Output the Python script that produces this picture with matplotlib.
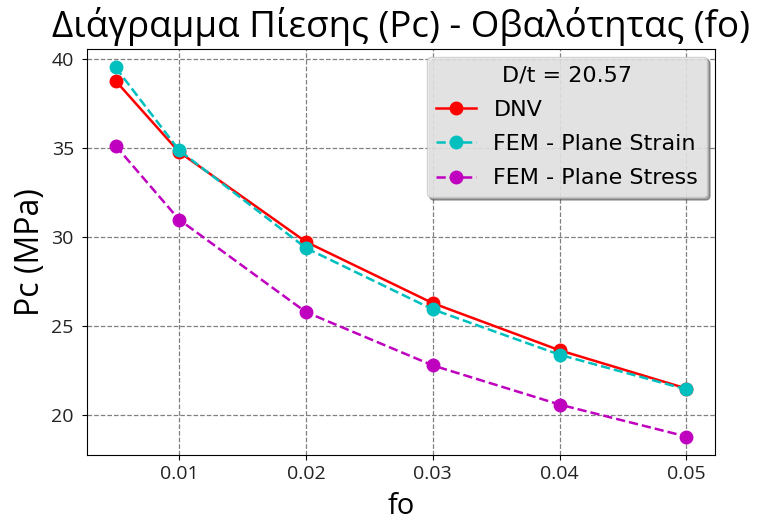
import matplotlib
matplotlib.use("Agg")
import matplotlib.pyplot as plt

fo = [0.005, 0.01, 0.02, 0.03, 0.04, 0.05]
pc_dnv = [38.8, 34.8, 29.75, 26.3, 23.65, 21.5]
pc_plane_strain = [39.55, 34.9, 29.4, 25.95, 23.4, 21.45]
pc_plane_stress = [35.15, 31.0, 25.8, 22.8, 20.6, 18.8]
dt_ratio = 20.57

label_font = "Open Sans"

fig = plt.figure(figsize=(7.57, 5.23), dpi=100)
ax = fig.add_axes([0.115, 0.130, 0.8295, 0.7763])

ax.plot(fo, pc_dnv, "r-o", lw=1.8, ms=9, label="DNV")
ax.plot(fo, pc_plane_strain, "c--o", lw=1.8, ms=9, label="FEM - Plane Strain")
ax.plot(fo, pc_plane_stress, "m--o", lw=1.8, ms=9, label="FEM - Plane Stress")

ax.set_xticks([0.01, 0.02, 0.03, 0.04, 0.05])
ax.set_xticklabels(["0.01", "0.02", "0.03", "0.04", "0.05"])
ax.set_yticks([20, 25, 30, 35, 40])
for lab in ax.get_xticklabels() + ax.get_yticklabels():
    lab.set_fontfamily(label_font)
    lab.set_fontsize(14)
    lab.set_color("#222222")
ax.tick_params(axis="y", pad=6)

ax.grid(True, color="gray", linestyle="--", linewidth=0.9)
for sp in ax.spines.values():
    sp.set_color("black")

ax.set_title("Διάγραμμα Πίεσης (Pc) - Οβαλότητας (fo)", fontsize=26.5,
             fontfamily=label_font, pad=9)
ax.set_xlabel("fo", fontsize=21, fontfamily=label_font, labelpad=7)
ax.set_ylabel("Pc (MPa)", fontsize=23, fontfamily=label_font, labelpad=3)

leg = ax.legend(title=f"D/t = {dt_ratio}", loc="upper right", fontsize=16,
                title_fontsize=16, shadow=True, fancybox=True,
                facecolor="#f3f3f3", framealpha=0.8, edgecolor="#c8c8c8",
                handlelength=1.8, borderaxespad=0.35, labelspacing=0.64)

fig.savefig("out.png", dpi=100)
